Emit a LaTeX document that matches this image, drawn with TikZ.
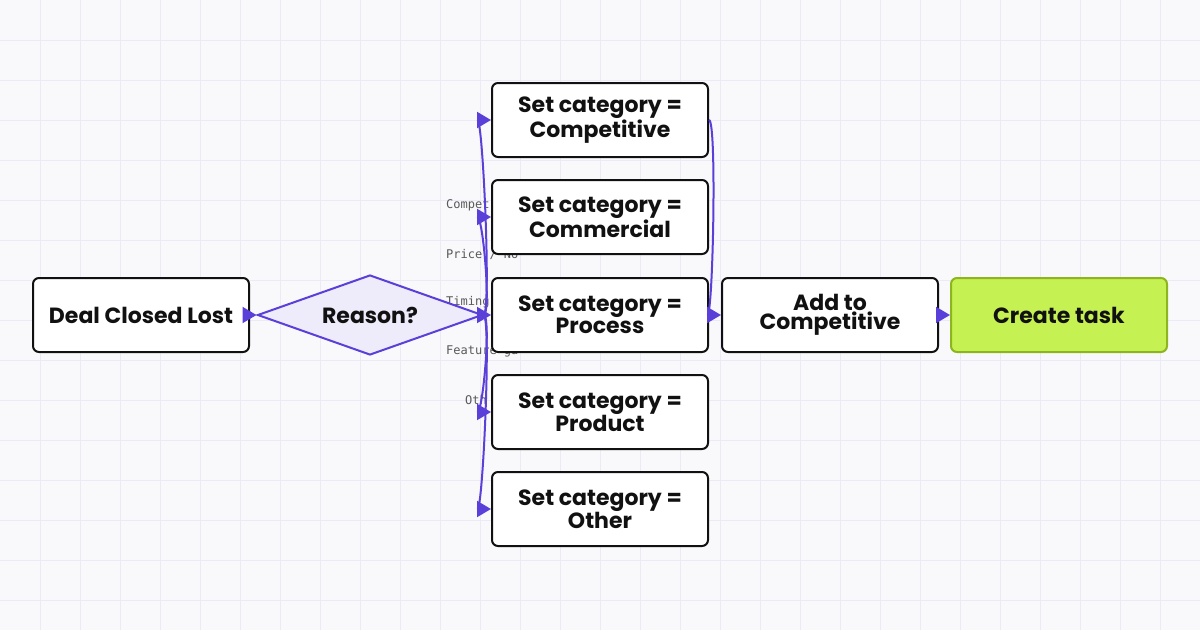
\documentclass[tikz,border=0pt]{standalone}
\usepackage{fontspec}
\setmainfont{Poppins}
\newfontfamily\monof{DejaVu Sans Mono}
\usetikzlibrary{shapes.geometric,arrows.meta}
\definecolor{bg}{HTML}{F9F9FC}
\definecolor{gridc}{HTML}{ECEAF7}
\definecolor{pur}{HTML}{5B3FD9}
\definecolor{dfill}{HTML}{EEEBFB}
\definecolor{lime}{HTML}{C6F152}
\definecolor{limeb}{HTML}{8DB51E}
\definecolor{ink}{HTML}{111111}
\tikzset{
 box/.style={draw=ink,line width=2pt,fill=white,rounded corners=6pt,minimum width=216pt,minimum height=74pt,align=center,font=\fontsize{22}{19.5}\selectfont\bfseries,text=ink,inner sep=0pt},
 lab/.style={font=\monof\fontsize{12}{12}\selectfont,text=black!65,anchor=west,inner sep=0pt},
 edge/.style={draw=pur,line width=2pt,-{Triangle[length=14pt,width=16pt]}},
}
\begin{document}
\begin{tikzpicture}[x=1pt,y=-1pt]
\fill[bg] (0,0) rectangle (1200,630);
\useasboundingbox (0,0) rectangle (1200,630);
\foreach \i in {40,80,...,1160} \draw[gridc,line width=0.8pt] (\i,0) -- (\i,630);
\foreach \j in {40,80,...,600} \draw[gridc,line width=0.8pt] (0,\j) -- (1200,\j);
\node[lab] (l1) at (446,205) {Compet};
\node[lab] (l2) at (446,254) {Price / No};
\node[lab] (l3) at (446,302) {Timing};
\node[lab] (l4) at (446,351) {Feature ga};
\node[lab] (l5) at (465,400) {Oth};
\node[box] (deal) at (141,315) {Deal Closed Lost};
\node[diamond,draw=pur,fill=dfill,line width=2pt,minimum width=225pt,minimum height=80pt,inner sep=0pt,aspect=2.8,font=\fontsize{22}{19.5}\selectfont\bfseries,text=ink] (r) at (370,315) {Reason?};
\node[box] (b1) at (600,120) {Set category =\\Competitive};
\node[box] (b2) at (600,217) {Set category =\\Commercial};
\node[box] (b3) at (600,315) {Set category =\\Process};
\node[box] (b4) at (600,412) {Set category =\\Product};
\node[box] (b5) at (600,509) {Set category =\\Other};
\node[box] (add) at (830,315) {Add to\\Competitive};
\node[box,fill=lime,draw=limeb] (task) at (1059,315) {Create task};
\draw[edge] (deal.east) -- (r.west);
\foreach \b in {b1,b2,b3,b4,b5}
  \draw[edge] (r.east) .. controls +(8,0) and +(-8,0) .. (\b.west);
\draw[edge] (b1.east) .. controls +(8,0) and +(-8,0) .. (add.west);
\draw[edge] (add.east) -- (task.west);
\end{tikzpicture}
\end{document}
